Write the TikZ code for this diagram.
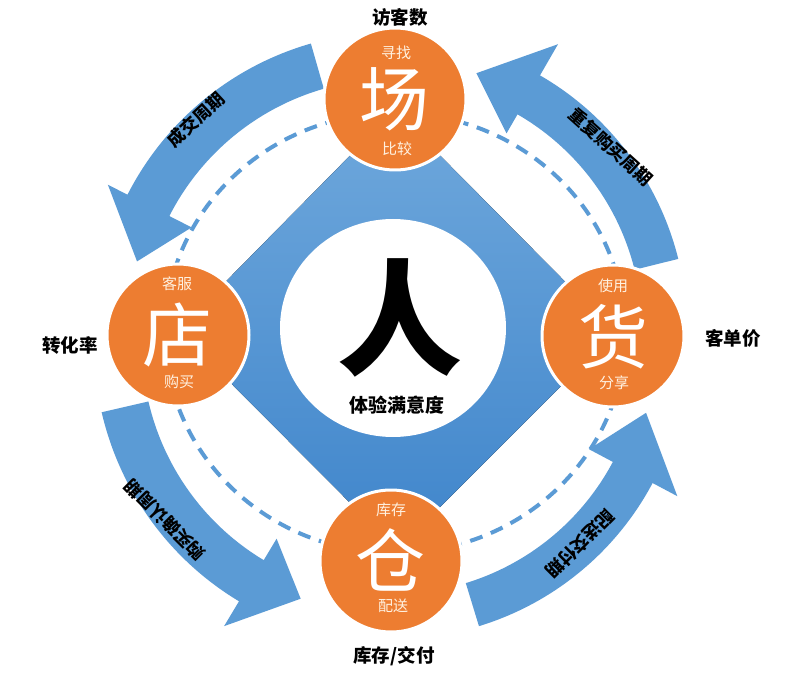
\documentclass[tikz,border=0pt]{standalone}
\usepackage{fontspec}
\setmainfont{Noto Sans CJK SC}
\definecolor{orangeC}{HTML}{ED7D31}
\definecolor{blueA}{HTML}{5B9BD5}
\definecolor{blueTop}{HTML}{6FA8DC}
\definecolor{blueBot}{HTML}{3F85CB}
\definecolor{cream}{HTML}{FFF1E0}
\newcommand\bigarrow[9]{%
  \fill[blueA, shift={(#1)}] (-#2:#6) arc[start angle=-#2, end angle=-#3, radius=#6]
    -- (-#3:#8) -- (-#4:#9) -- (-#3:#7) -- (-#3:#5)
    arc[start angle=-#3, end angle=-#2, radius=#5] -- cycle;}
\begin{document}
\begin{tikzpicture}[x=1pt,y=-1pt,
  orangecirc/.style={circle, fill=orangeC, draw=white, line width=3pt, minimum size=142pt, inner sep=0pt},
  bigchar/.style={text=white, font=\fontsize{70}{70}\selectfont, inner sep=0pt},
  smalltxt/.style={text=cream, font=\fontsize{15}{15}\selectfont, inner sep=0pt},
  outlabel/.style={font=\bfseries\fontsize{18.5}{20}\selectfont, inner sep=0pt},
  arrowlabel/.style={font=\bfseries\fontsize{17.5}{18}\selectfont, inner sep=0pt}]
\useasboundingbox[fill=white] (0,0) rectangle (801,676);
% dashed orbit
\draw[blueA, line width=4pt, dash pattern=on 13pt off 9pt] (395,333) ellipse [x radius=230, y radius=220];
% curved arrows
\bigarrow{393,330}{106}{153}{165}{251}{298}{226}{320}{265}
\bigarrow{393,330}{14}{60}{72}{249}{294}{227}{330}{270}
\bigarrow{393,345}{193}{239}{250}{251}{299}{226}{328}{270}
\bigarrow{393,345}{287}{332}{345}{249}{294}{222}{322}{262}
% diamond
\fill[top color=blueTop, bottom color=blueBot] (395,110) -- (615,332) -- (397,550) -- (178,330) -- cycle;
% inner white circle
\fill[white] (393,328) ellipse [x radius=113, y radius=109];
% orange circles
\node[orangecirc] (cTop) at (395,99) {};
\node[orangecirc] (cLeft) at (178,335) {};
\node[orangecirc] (cRight) at (613,336) {};
\node[orangecirc] (cBot) at (391,561) {};
% circle texts
\node[bigchar] (tChang) at (394,99) {场};
\node[smalltxt] (tXun) at (396,53) {寻找};
\node[smalltxt] (tBi) at (397,149) {比较};
\node[bigchar] (tDian) at (177,335) {店};
\node[smalltxt] (tKe) at (177,284) {客服};
\node[smalltxt] (tGou) at (179,382) {购买};
\node[bigchar] (tHuo) at (613,337) {货};
\node[smalltxt] (tShi) at (613,286) {使用};
\node[smalltxt] (tFen) at (614,383) {分享};
\node[bigchar] (tCang) at (390,560) {仓};
\node[smalltxt] (tKu) at (391,510) {库存};
\node[smalltxt] (tPei) at (393,606) {配送};
% centre
\node[font=\bfseries\fontsize{125}{125}\selectfont, inner sep=0pt] (tRen) at (400,318) {人};
\node[font=\bfseries\fontsize{19}{20}\selectfont, inner sep=0pt] (tTiyan) at (397,405) {体验满意度};
% outer labels
\node[outlabel] (lFang) at (400,17) {访客数};
\node[outlabel] (lZhuan) at (70,345) {转化率};
\node[outlabel] (lKe) at (733,338) {客单价};
\node[outlabel] (lKu) at (394,656) {库存/交付};
% arrow labels
\node[arrowlabel, rotate=43] (aCheng) at (196,120) {成交周期};
\node[arrowlabel, rotate=-42] (aChong) at (611,147) {重复购买周期};
\node[arrowlabel, rotate=135] (aGou) at (165,520) {购买确认周期};
\node[arrowlabel, rotate=225] (aPei) at (580,544) {配送交付期};
\end{tikzpicture}
\end{document}
